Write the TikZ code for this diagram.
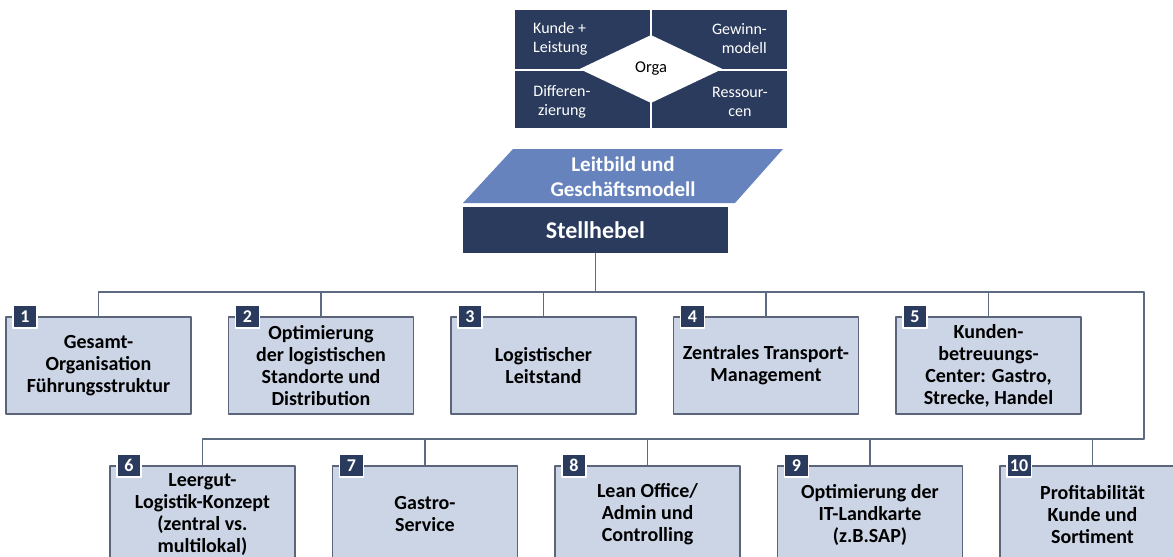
\documentclass[tikz,border=0pt]{standalone}
\usepackage{fontspec}
\setmainfont{Carlito}
\usepackage{tikz}
\usetikzlibrary{calc,positioning,shapes.geometric}
\definecolor{navy}{HTML}{2B3B5D}
\definecolor{leitblue}{HTML}{6683BE}
\definecolor{leverfill}{HTML}{CCD5E5}
\definecolor{leverline}{HTML}{5B6478}
\definecolor{connline}{HTML}{5D6B82}

\tikzset{
  quadtext/.style={text=white, inner sep=0pt, font=\fontsize{16}{19}\selectfont},
  lever/.style={draw=leverline, line width=1.3pt, fill=leverfill, minimum width=185, minimum height=97,
    inner sep=0pt, align=center, font=\bfseries\fontsize{20}{22}\selectfont},
  badge/.style={draw=white, line width=1.2pt, fill=navy, text=white, minimum width=24, minimum height=23,
    inner xsep=3pt, inner ysep=0pt, font=\bfseries\fontsize{18}{18}\selectfont},
  conn/.style={draw=connline, line width=1.4pt}
}

\begin{document}
\begin{tikzpicture}[x=1pt, y=-1pt, line cap=round, line join=round]
  \useasboundingbox (0,0) rectangle (1173,557);

  % Business model square with the Orga diamond
  \fill[navy] (515,10) rectangle (787,128);
  \draw[white, line width=2pt, line cap=butt] (651,10) -- (651,128) (515,70) -- (787,70);
  \node[diamond, fill=white, minimum width=143, minimum height=68, inner sep=0pt,
        font=\fontsize{16.5}{19}\selectfont] (orga) at (651,69) {Orga};
  \node[quadtext, anchor=west, align=left] (kunde) at (533,39) {Kunde +\\Leistung};
  \node[quadtext, anchor=east, align=right] (gewinn) at (767,39) {Gewinn-\\modell};
  \node[quadtext, align=center] (diff) at (562,102) {Differen-\\zierung};
  \node[quadtext, align=center] (ress) at (740,102) {Ressour-\\cen};

  % Leitbild and Stellhebel
  \fill[leitblue] (463,203) -- (513,149) -- (783,149) -- (735,203) -- cycle;
  \node[text=white, align=center, inner sep=0pt, font=\bfseries\fontsize{21}{25}\selectfont]
    (leit) at (623,177) {Leitbild und\\Geschäftsmodell};
  \node[fill=navy, text=white, minimum width=265, minimum height=46, inner sep=0pt,
        font=\bfseries\fontsize{24}{26}\selectfont] (hebel) at (595.5,230) {Stellhebel};

  % First row of levers
  \node[lever] (h1) at (98.5,365.5) {Gesamt-\\Organisation\\Führungsstruktur};
  \node[lever] (h2) at (321,365.5) {Optimierung\\der logistischen\\Standorte und\\Distribution};
  \node[lever] (h3) at (543.5,365.5) {Logistischer\\Leitstand};
  \node[lever] (h4) at (766,365.5) {Zentrales Transport-\\Management};
  \node[lever] (h5) at (988.5,365.5) {Kunden-\\betreuungs-\\Center: Gastro,\\Strecke, Handel};

  % Second row of levers
  \node[lever] (h6) at (202.5,514.5) {Leergut-\\Logistik-Konzept\\(zentral vs.\\multilokal)};
  \node[lever] (h7) at (425,514.5) {Gastro-\\Service};
  \node[lever] (h8) at (647.5,514.5) {Lean Office/\\Admin und\\Controlling};
  \node[lever] (h9) at (870,514.5) {Optimierung der\\IT-Landkarte\\(z.B.SAP)};
  \node[lever] (h10) at (1092.5,514.5) {Profitabilität\\Kunde und\\Sortiment};

  % Number badges
  \foreach \i in {1,...,10}
    \node[badge, anchor=north west] (b\i) at ($(h\i.north west)+(7,-12)$) {\i};

  % Connectors
  \coordinate (bus1) at (595.5,292);
  \coordinate (loopr) at (1144,439);
  \coordinate (bus2) at (1092.5,439);
  \draw[conn] (hebel.south) -- (bus1);
  \foreach \i in {1,...,5}
    \draw[conn] (bus1) -| (h\i.north);
  \draw[conn] (bus1) -| (loopr) -- (bus2) -- (h10.north);
  \foreach \i in {6,...,9}
    \draw[conn] (bus2) -| (h\i.north);
\end{tikzpicture}
\end{document}
